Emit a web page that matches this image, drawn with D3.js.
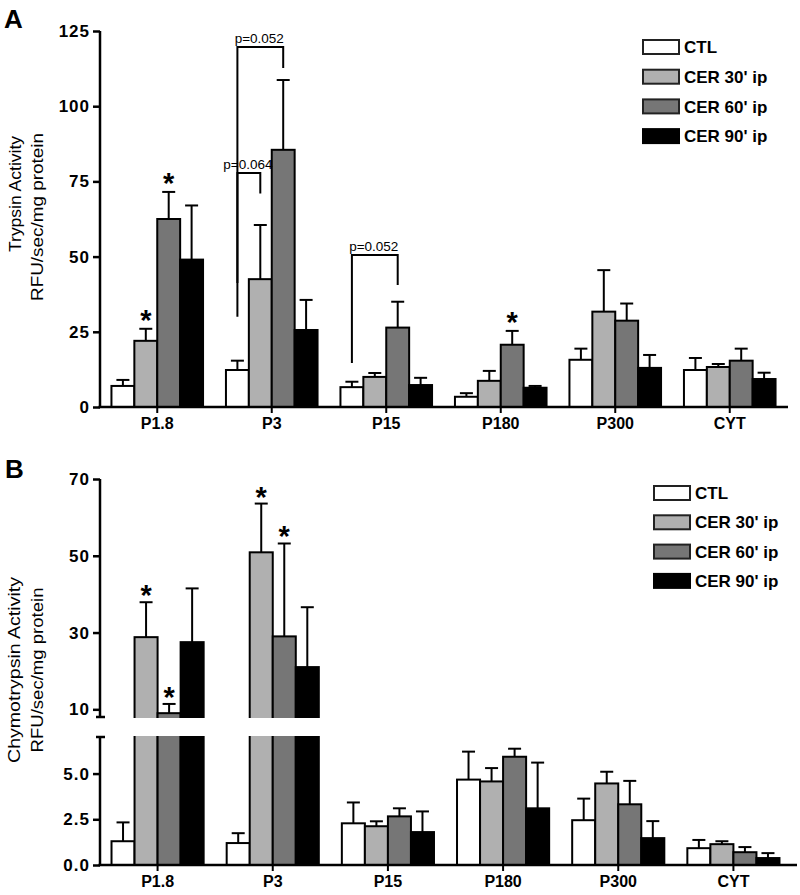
<!DOCTYPE html>
<html><head><meta charset="utf-8">
<script src="https://cdn.jsdelivr.net/npm/d3@7"></script>
<style>
html,body{margin:0;padding:0;background:#fff;}
svg{display:block;font-family:"Liberation Sans",Arial,sans-serif;}
</style></head>
<body>
<svg id="chart" width="800" height="895"></svg>
<script>
// ---------- DATA ----------
const categories = ["P1.8", "P3", "P15", "P180", "P300", "CYT"];
const seriesNames = ["CTL", "CER 30' ip", "CER 60' ip", "CER 90' ip"];
const seriesColors = ["#ffffff", "#b0b0b0", "#767676", "#000000"];

// Panel A: trypsin activity (mean, SEM) per category x series
const trypsinMean = [
  [7.0, 22.0, 62.5, 49.0],
  [12.3, 42.5, 85.5, 25.6],
  [6.6, 10.0, 26.4, 7.3],
  [3.4, 8.7, 20.7, 6.4],
  [15.7, 31.7, 28.7, 13.0],
  [12.3, 13.3, 15.4, 9.3]
];
const trypsinSem = [
  [2.0, 4.0, 9.0, 18.0],
  [3.1, 18.0, 23.2, 10.0],
  [1.8, 1.3, 8.6, 2.4],
  [1.2, 3.3, 4.6, 0.6],
  [3.7, 13.8, 5.7, 4.3],
  [4.0, 1.0, 4.0, 2.1]
];
const trypsinTicks = [0, 25, 50, 75, 100, 125];
const trypsinStars = [["P1.8", 1], ["P1.8", 2], ["P180", 2]];
const trypsinBrackets = [
  {cat: "P3", from: 0, to: 1, left: 30, right: 71, top: 77.8, label: "p=0.064"},
  {cat: "P3", from: 0, to: 2, left: 41.2, right: 112.7, top: 119.7, label: "p=0.052"},
  {cat: "P15", from: 0, to: 2, left: 14.6, right: 40.6, top: 50.5, label: "p=0.052"}
];

// Panel B: chymotrypsin activity
const chymoMean = [
  [1.3, 28.8, 9.0, 27.5],
  [1.2, 50.9, 29.0, 21.0],
  [2.28, 2.12, 2.66, 1.8],
  [4.67, 4.57, 5.92, 3.1],
  [2.45, 4.46, 3.32, 1.47],
  [0.92, 1.14, 0.7, 0.38]
];
const chymoSem = [
  [1.03, 9.1, 2.4, 14.0],
  [0.54, 12.7, 24.2, 15.6],
  [1.14, 0.27, 0.44, 1.13],
  [1.53, 0.73, 0.44, 2.5],
  [1.18, 0.64, 1.28, 0.93],
  [0.45, 0.16, 0.28, 0.27]
];
const chymoTicksLow = [0, 2.5, 5.0];
const chymoTicksHigh = [10, 30, 50, 70];
const chymoBreak = [7, 8]; // axis break between these values
const chymoStars = [["P1.8", 1], ["P1.8", 2], ["P3", 1], ["P3", 2]];

// ---------- DRAW ----------
const svg = d3.select("#chart");

function drawPanel(o) {
  const g = svg.append("g");
  const x0 = d3.scaleBand().domain(categories).range([o.left, o.right]).paddingInner(0).paddingOuter(0);
  const x1 = d3.scaleBand().domain(d3.range(seriesNames.length)).range([0, x0.bandwidth()]).paddingInner(0).paddingOuter(0.5);
  const y = o.y;

  const rows = [];
  categories.forEach((c, i) => seriesNames.forEach((s, j) => {
    rows.push({c, j, v: o.mean[i][j], e: o.sem[i][j]});
  }));

  // error bars (drawn before bars so the bar outline covers the base)
  const eg = g.append("g").attr("stroke", "#000").attr("stroke-width", 2).attr("fill", "none");
  rows.forEach(d => {
    const cx = x0(d.c) + x1(d.j) + x1.bandwidth() / 2;
    eg.append("line").attr("x1", cx).attr("x2", cx).attr("y1", y(d.v)).attr("y2", y(d.v + d.e));
    eg.append("line").attr("x1", cx - 6.5).attr("x2", cx + 6.5).attr("y1", y(d.v + d.e)).attr("y2", y(d.v + d.e));
  });

  // bars
  g.append("g").selectAll("rect").data(rows).join("rect")
    .attr("x", d => x0(d.c) + x1(d.j))
    .attr("width", x1.bandwidth())
    .attr("y", d => y(d.v))
    .attr("height", d => y(0) - y(d.v))
    .attr("fill", d => seriesColors[d.j])
    .attr("stroke", "#000").attr("stroke-width", 2);

  // axis break mask
  if (o.breakVals) {
    g.append("rect").attr("x", o.left + 2).attr("width", o.axisEnd - o.left)
      .attr("y", y(o.breakVals[1]) + 1).attr("height", y(o.breakVals[0]) - y(o.breakVals[1]) - 2)
      .attr("fill", "#fff");
  }

  // x axis
  const xa = g.append("g").attr("transform", `translate(0,${y(0)})`)
    .call(d3.axisBottom(x0).tickSize(6).tickPadding(5));
  xa.select(".domain").remove();
  xa.selectAll("line").attr("stroke", "#000").attr("stroke-width", 2);
  xa.selectAll("text").attr("font-size", 16).attr("font-weight", "bold").attr("fill", "#000")
    .attr("font-family", '"Liberation Sans",Arial,sans-serif');
  g.append("line").attr("x1", o.left - 1.5).attr("x2", o.axisEnd).attr("y1", y(0)).attr("y2", y(0))
    .attr("stroke", "#000").attr("stroke-width", 2.5);

  // y axis
  const ya = g.append("g").attr("transform", `translate(${o.left},0)`)
    .call(d3.axisLeft(y).tickValues(o.ticks).tickFormat(o.fmt).tickSize(7).tickPadding(3));
  ya.select(".domain").remove();
  ya.selectAll("line").attr("stroke", "#000").attr("stroke-width", 2.5);
  ya.selectAll("text").attr("font-size", 17).attr("font-weight", "bold").attr("fill", "#000")
    .attr("letter-spacing", 1).attr("font-family", '"Liberation Sans",Arial,sans-serif');
  o.ySegments.forEach(seg => {
    g.append("line").attr("x1", o.left).attr("x2", o.left).attr("y1", y(seg[0])).attr("y2", y(seg[1]))
      .attr("stroke", "#000").attr("stroke-width", 2.5);
    if (seg[2]) seg[2].forEach(v => {
      g.append("line").attr("x1", o.left - 4).attr("x2", o.left + 5).attr("y1", y(v)).attr("y2", y(v))
        .attr("stroke", "#000").attr("stroke-width", 2.5);
    });
  });

  // stars
  o.stars.forEach(([c, j]) => {
    const i = categories.indexOf(c);
    const cx = x0(c) + x1(j) + x1.bandwidth() / 2;
    g.append("text").attr("x", cx).attr("y", y(o.mean[i][j] + o.sem[i][j]) + o.starDy)
      .attr("text-anchor", "middle").attr("font-size", 29).attr("font-weight", "bold").text("*");
  });

  // brackets
  (o.brackets || []).forEach(b => {
    const xl = x0(b.cat) + x1(b.from) + x1.bandwidth() / 2;
    const xr = x0(b.cat) + x1(b.to) + x1.bandwidth() / 2;
    g.append("path").attr("d", `M${xl},${y(b.left)}V${y(b.top)}H${xr}V${y(b.right)}`)
      .attr("fill", "none").attr("stroke", "#000").attr("stroke-width", 2);
    g.append("text").attr("x", (xl + xr) / 2 - 1).attr("y", y(b.top) - 4).attr("text-anchor", "middle")
      .attr("font-size", 13.5).text(b.label);
  });

  // legend
  seriesNames.forEach((s, j) => {
    const cy = o.legY + j * o.legStep;
    g.append("rect").attr("x", o.legX).attr("y", cy - 7).attr("width", 36).attr("height", 14)
      .attr("fill", seriesColors[j]).attr("stroke", j === 3 ? "#000" : "#222").attr("stroke-width", 2);
    g.append("text").attr("x", o.legX + 41).attr("y", cy).attr("dy", "0.36em")
      .attr("font-size", 17).attr("font-weight", "bold").text(s);
  });

  // y title
  o.title.forEach(t => {
    g.append("text").attr("transform", `translate(${t.x},${t.y}) rotate(-90)`)
      .attr("text-anchor", "middle").attr("dy", "0.35em").attr("font-size", 17)
      .attr("textLength", t.len).attr("lengthAdjust", "spacingAndGlyphs").text(t.text);
  });

  // panel letter
  g.append("text").attr("x", o.letterX).attr("y", o.letterY).attr("font-size", 26)
    .attr("font-weight", "bold").text(o.letter);
}

// Panel A
drawPanel({
  left: 100, right: 787, axisEnd: 788,
  y: d3.scaleLinear().domain([0, 125]).range([407, 31]),
  ticks: trypsinTicks, fmt: d3.format("d"),
  ySegments: [[0, 125]],
  mean: trypsinMean, sem: trypsinSem,
  stars: trypsinStars, starDy: 1,
  brackets: trypsinBrackets,
  legX: 643, legY: 47, legStep: 29.7,
  title: [
    {x: 15, y: 194, len: 116, text: "Trypsin  Activity"},
    {x: 37, y: 217, len: 168, text: "RFU/sec/mg  protein"}
  ],
  letter: "A", letterX: 4, letterY: 28
});

// Panel B (broken y axis)
drawPanel({
  left: 100, right: 791, axisEnd: 797,
  y: d3.scaleLinear().domain([0, chymoBreak[0], chymoBreak[1], 70]).range([865, 737, 717, 479]),
  ticks: chymoTicksLow.concat(chymoTicksHigh),
  fmt: v => v < chymoBreak[0] ? d3.format(".1f")(v) : d3.format("d")(v),
  ySegments: [[0, chymoBreak[0], [chymoBreak[0]]], [chymoBreak[1], 70, [chymoBreak[1]]]],
  breakVals: chymoBreak,
  mean: chymoMean, sem: chymoSem,
  stars: chymoStars, starDy: 3,
  legX: 654, legY: 493, legStep: 29.3,
  title: [
    {x: 14, y: 670, len: 186, text: "Chymotrypsin  Activity"},
    {x: 37, y: 670, len: 165, text: "RFU/sec/mg  protein"}
  ],
  letter: "B", letterX: 5, letterY: 478
});
</script>
</body></html>
